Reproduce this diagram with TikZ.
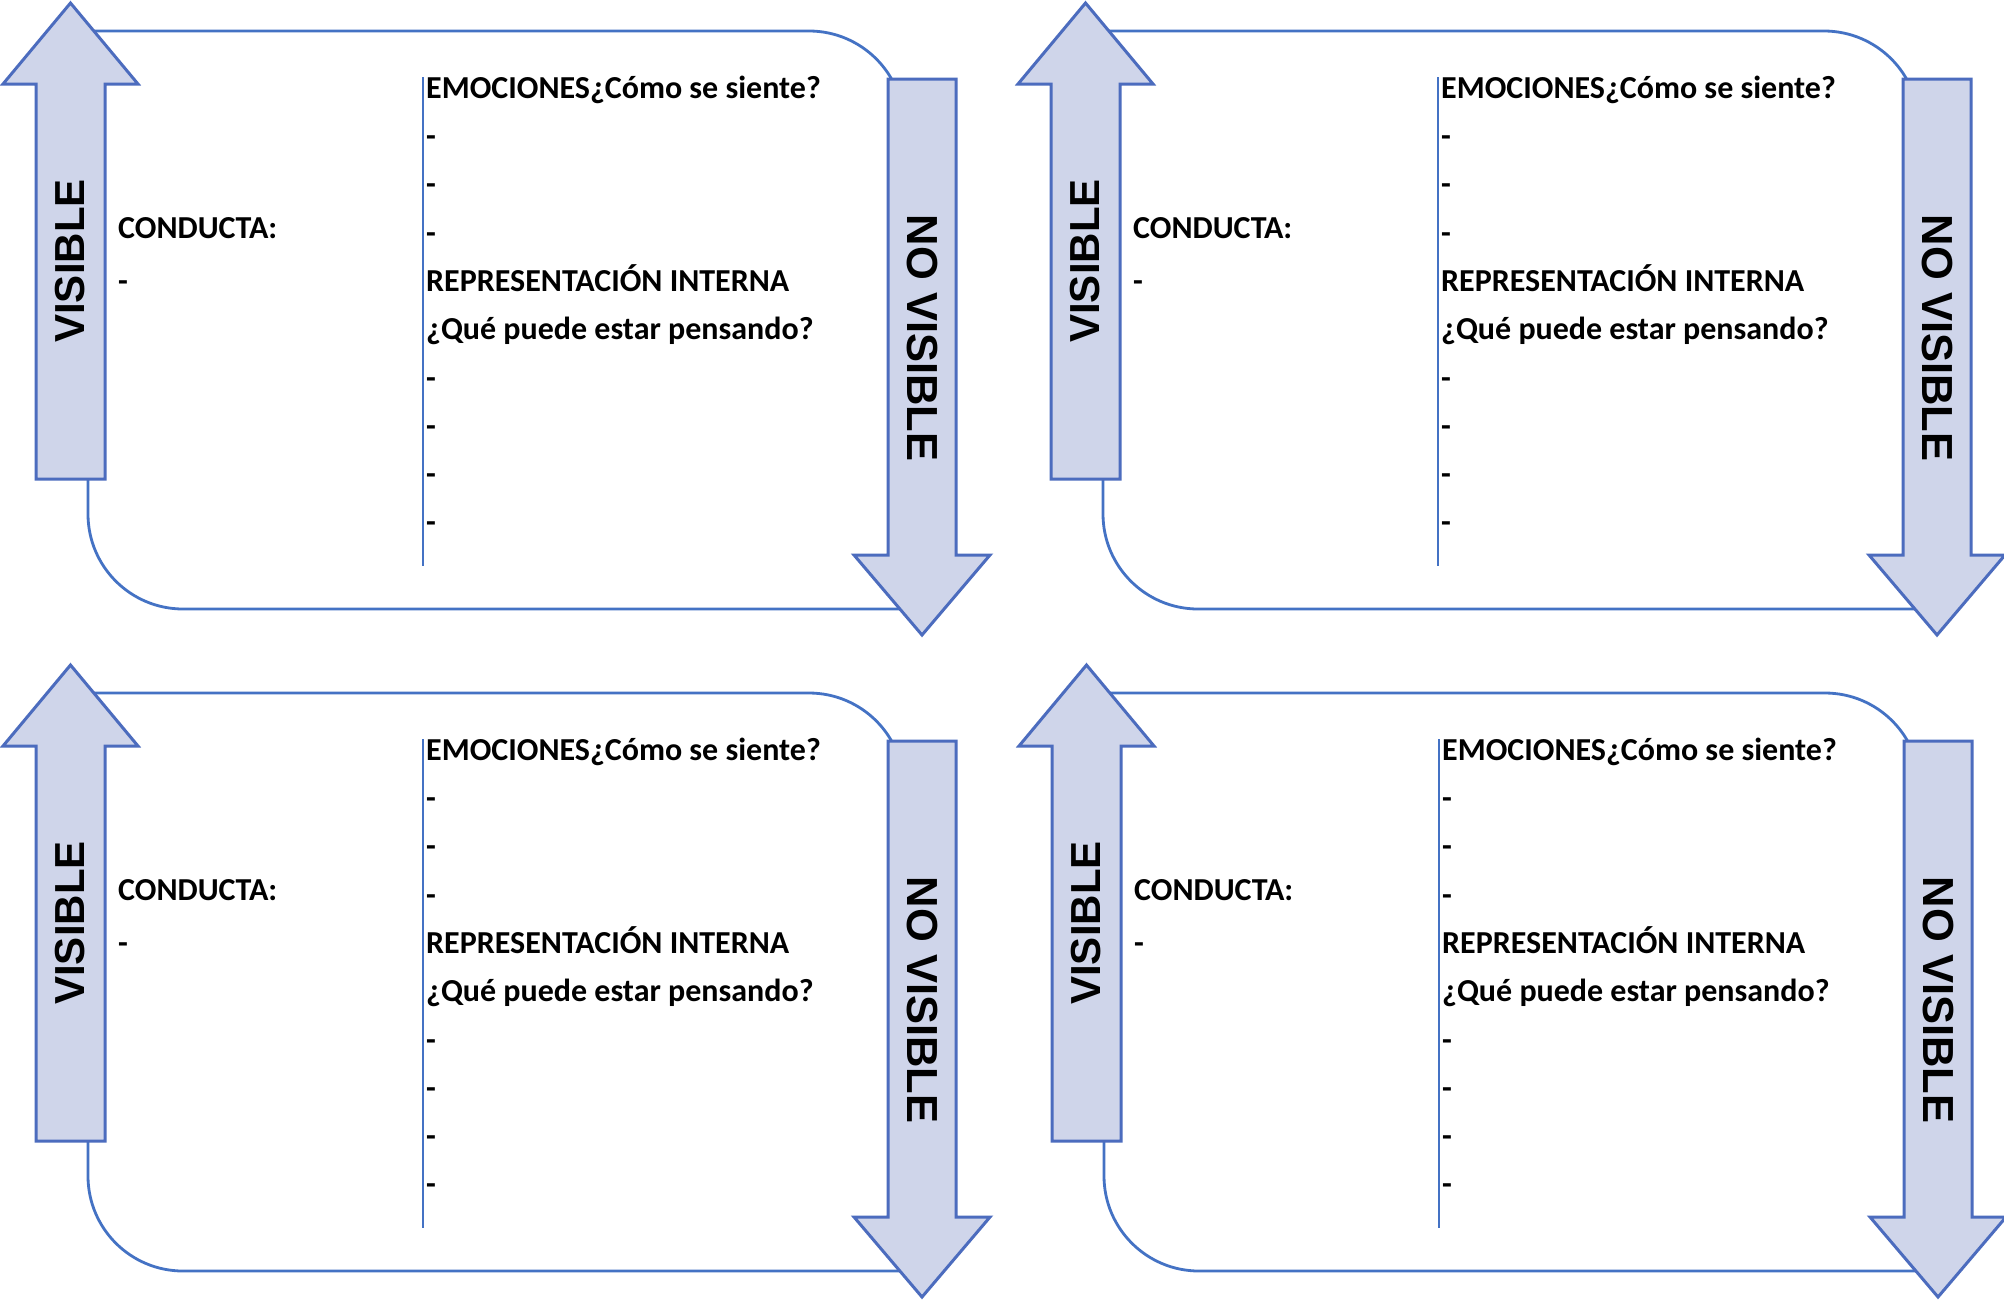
\documentclass[tikz,border=0pt]{standalone}
\usepackage{fontspec}
\newfontfamily\calb{Carlito}
\newfontfamily\arb{Liberation Sans}
\definecolor{arrfill}{RGB}{207,213,234}
\definecolor{arrline}{RGB}{76,108,190}
\definecolor{frameline}{RGB}{68,114,196}
\tikzset{
  bigarrow/.style={fill=arrfill, draw=arrline, line width=3pt, line join=miter},
  frameln/.style={draw=frameline, line width=2.8pt},
  divline/.style={draw=frameline, line width=2.5pt},
  txt/.style={font=\calb\bfseries\fontsize{32}{32}\selectfont, anchor=base west, inner sep=0pt},
  vert/.style={font=\arb\bfseries\fontsize{42}{42}\selectfont, inner sep=0pt},
  vertb/.style={font=\arb\bfseries\fontsize{43.5}{43.5}\selectfont, inner sep=0pt},
}
\newcommand\panel[3]{%
 \begin{scope}[shift={(#2,#3)}]
  \draw[frameln] (70,31) -- (809,31) arc[start angle=90,end angle=0,radius=95pt] -- (904,609) -- (183,609) arc[start angle=270,end angle=180,radius=95pt] -- (88,479);
  \draw[bigarrow] (70.5,3) -- (138,84) -- (105,84) -- (105,479) -- (36,479) -- (36,84) -- (3,84) -- cycle;
  \draw[bigarrow] (888,79) -- (956,79) -- (956,555) -- (990,555) -- (922,635) -- (854,555) -- (888,555) -- cycle;
  \node[vert, rotate=90] (#1-vis) at (70.5,261) {VISIBLE};
  \node[vertb, rotate=-90] (#1-novis) at (922,338) {NO VISIBLE};
  \coordinate (#1-dtop) at (423,77);
  \coordinate (#1-dbot) at (423,566);
  \draw[divline] (#1-dtop) -- (#1-dbot);
  \node[txt] (#1-cond) at (118,238) {CONDUCTA:};
  \node[txt] (#1-cdash) at (118,291) {-};
  \node[txt] (#1-l0) at (426,98.5) {EMOCIONES¿Cómo se siente?};
  \node[txt] (#1-l1) at (426,146.5) {-};
  \node[txt] (#1-l2) at (426,194.5) {-};
  \node[txt] (#1-l3) at (426,243) {-};
  \node[txt] (#1-l4) at (426,291.5) {REPRESENTACIÓN INTERNA};
  \node[txt] (#1-l5) at (426,339.5) {¿Qué puede estar pensando?};
  \node[txt] (#1-l6) at (426,388) {-};
  \node[txt] (#1-l7) at (426,436) {-};
  \node[txt] (#1-l8) at (426,484.5) {-};
  \node[txt] (#1-l9) at (426,532.5) {-};
 \end{scope}}
\begin{document}
\begin{tikzpicture}[x=1pt,y=-1pt]
\useasboundingbox (0,0) rectangle (2004,1299);
\fill[white] (0,0) rectangle (2004,1299);
\panel{a}{0}{0}
\panel{b}{1015}{0}
\panel{c}{0}{662}
\panel{d}{1016}{662}
\end{tikzpicture}
\end{document}
